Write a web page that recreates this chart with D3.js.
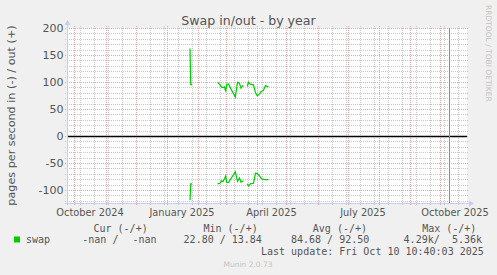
<!DOCTYPE html>
<html>
<head>
<meta charset="utf-8">
<script src="https://cdn.jsdelivr.net/npm/d3@7"></script>
<style>
  body { margin: 0; background: #f0f0f0; }
  text { font-family: "DejaVu Sans", sans-serif; fill: #555; }
  .mono { font-family: "DejaVu Sans Mono", monospace; font-size: 10px; }
</style>
</head>
<body>
<div id="chart"></div>
<script>
// sample times (daily rrd rows that have data, null = gap)
const sampleTimes = [
  '2025-01-24T12:00', '2025-01-25T06:00', '2025-01-26T12:00', '2025-01-28T00:00',
  '2025-02-21T00:00', '2025-02-23T12:00', '2025-02-25T00:00', '2025-02-26T12:00',
  '2025-02-28T00:00', '2025-03-01T05:00', '2025-03-02T05:00', '2025-03-04T00:00',
  '2025-03-10T19:00', '2025-03-13T00:00', '2025-03-15T00:00', '2025-03-16T12:00',
  '2025-03-18T05:00', '2025-03-19T00:00', '2025-03-21T00:00',
  '2025-03-22T17:00', '2025-03-24T02:00', '2025-03-25T19:00', '2025-03-29T00:00',
  '2025-03-31T00:00', '2025-04-01T19:00', '2025-04-03T19:00', '2025-04-05T19:00',
  '2025-04-07T19:00', '2025-04-10T00:00', '2025-04-11T19:00', '2025-04-13T00:00'
];
// pages swapped out per second (+)
const swapOut = [
  162, 95, 95, null,
  99.7, 94.7, 90.4, 89.6,
  91, 82.3, 96, 96,
  72, 99.5, 97.5, 88.6,
  93, 92, null,
  91.6, 99.5, 96, 94.7,
  80, 74.4, 77.5, 82.3,
  84, 93.5, 91.6, 91.6
];
// pages swapped in per second (-)
const swapIn = [
  119, 88.6, 88.6, null,
  88.6, 87.5, 83, 84.2,
  79, 73.8, 86, 86,
  66.4, 83.8, 77.5, 85.3,
  83.5, 83.5, null,
  88.3, 92.6, 88.6, 87.5,
  69, 69.6, 73.5, 78.5,
  80.2, 80.7, 80.7, 80.7
];

const yTicks = [-100, -50, 0, 50, 100, 150, 200];
const monthLabels = ['October 2024', 'January 2025', 'April 2025', 'July 2025', 'October 2025'];
const labelMonths = ['2024-10-01', '2025-01-01', '2025-04-01', '2025-07-01', '2025-10-01'];
const lastUpdate = '2025-10-10T10:40:03';

const legendHeads = ['Cur (-/+)', 'Min (-/+)', 'Avg (-/+)', 'Max (-/+)'];
const legendName = 'swap';
const legendStats = ['-nan /', '-nan', '22.80 / 13.84', '84.68 / 92.50', '4.29k/', '5.36k'];

// chart size
let width = 497,
  height = 275,
  plot = { left: 67, top: 28, right: 467, bottom: 203 };

let parse = d3.timeParse('%Y-%m-%dT%H:%M');
let parseDay = d3.timeParse('%Y-%m-%d');
let data = sampleTimes.map((t, i) => ({ t: parse(t), out: swapOut[i], inn: swapIn[i] }));

let svg = d3.select('#chart')
  .append('svg')
  .attr('width', width)
  .attr('height', height);

svg.append('rect')
  .attr('width', width)
  .attr('height', height)
  .attr('fill', '#f0f0f0');

// plotting area
svg.append('rect')
  .attr('x', plot.left)
  .attr('y', plot.top)
  .attr('width', plot.right - plot.left)
  .attr('height', plot.bottom - plot.top)
  .attr('fill', '#fff');

// 400 days, one pixel per day
let xScale = d3.scaleTime()
  .domain([new Date(2024, 8, 23, 12), new Date(2025, 9, 28, 12)])
  .range([plot.left, plot.right]);

let yScale = d3.scaleLinear()
  .domain([-124, 200])
  .range([plot.bottom, plot.top]);

let px = v => Math.round(v) + 0.5;

let grid = svg.append('g');
let minorColor = '#c8c8c8',
  majorColor = '#eba5a5';

// minor horizontal grid every 10
d3.range(-120, 201, 10).filter(v => v % 50 !== 0).forEach(v => {
  grid.append('line')
    .attr('x1', plot.left - 2).attr('x2', plot.right + 2)
    .attr('y1', px(yScale(v))).attr('y2', px(yScale(v)))
    .attr('stroke', minorColor)
    .attr('stroke-dasharray', '1,1');
});

// minor vertical grid every two weeks
let minorDays = d3.timeDay.range(new Date(2024, 9, 6), xScale.domain()[1], 14);
minorDays.forEach(d => {
  grid.append('line')
    .attr('x1', px(xScale(d))).attr('x2', px(xScale(d)))
    .attr('y1', plot.top - 2).attr('y2', plot.bottom + 2)
    .attr('stroke', minorColor)
    .attr('stroke-dasharray', '1,1');
});

// major grid
yTicks.forEach(v => {
  grid.append('line')
    .attr('x1', plot.left - 2).attr('x2', plot.right + 2)
    .attr('y1', px(yScale(v))).attr('y2', px(yScale(v)))
    .attr('stroke', majorColor)
    .attr('stroke-dasharray', '1,1');
});
d3.timeMonth.range(xScale.domain()[0], xScale.domain()[1]).forEach(d => {
  grid.append('line')
    .attr('x1', px(xScale(d))).attr('x2', px(xScale(d)))
    .attr('y1', plot.top - 2).attr('y2', plot.bottom + 2)
    .attr('stroke', majorColor)
    .attr('stroke-dasharray', '1,1');
});

// y tick labels
svg.append('g')
  .selectAll('text')
  .data(yTicks)
  .enter()
  .append('text')
    .attr('x', 63.5)
    .attr('y', d => yScale(d) + 4)
    .attr('text-anchor', 'end')
    .style('font-size', '11px')
    .text(d => d);

// x labels sit in the middle of their month
svg.append('g')
  .selectAll('text')
  .data(labelMonths)
  .enter()
  .append('text')
    .attr('x', d => {
      let m = parseDay(d);
      return (xScale(m) + xScale(d3.timeMonth.offset(m, 1))) / 2;
    })
    .attr('y', 216)
    .attr('text-anchor', 'middle')
    .style('font-size', '9.8px')
    .text((d, i) => monthLabels[i]);

// swap lines, out above zero and in below
let outLine = d3.line()
  .defined(d => d.out != null)
  .x(d => xScale(d.t))
  .y(d => yScale(d.out));
let inLine = d3.line()
  .defined(d => d.inn != null)
  .x(d => xScale(d.t))
  .y(d => yScale(-d.inn));

svg.append('path')
  .datum(data)
  .attr('d', outLine)
  .attr('fill', 'none')
  .attr('stroke', '#00cc00')
  .attr('stroke-width', 1.2);
svg.append('path')
  .datum(data)
  .attr('d', inLine)
  .attr('fill', 'none')
  .attr('stroke', '#00cc00')
  .attr('stroke-width', 1.2);

// zero rule
svg.append('line')
  .attr('x1', plot.left).attr('x2', plot.right)
  .attr('y1', px(yScale(0))).attr('y2', px(yScale(0)))
  .attr('stroke', '#000')
  .attr('stroke-width', 1.4);

// last update marker
let now = d3.timeParse('%Y-%m-%dT%H:%M:%S')(lastUpdate);
svg.append('line')
  .attr('x1', px(xScale(now))).attr('x2', px(xScale(now)))
  .attr('y1', plot.top).attr('y2', plot.bottom)
  .attr('stroke', '#8c8c8c');

// axes with arrows
let axisColor = '#c6cdf5';
svg.append('line')
  .attr('x1', plot.left + 0.5).attr('x2', plot.left + 0.5)
  .attr('y1', plot.bottom + 2).attr('y2', plot.top - 5)
  .attr('stroke', axisColor);
svg.append('path')
  .attr('d', `M${plot.left - 2.5},${plot.top - 3}L${plot.left + 3.5},${plot.top - 3}L${plot.left + 0.5},${plot.top - 8}Z`)
  .attr('fill', axisColor);
svg.append('line')
  .attr('x1', plot.left - 2).attr('x2', plot.right + 3)
  .attr('y1', plot.bottom + 0.5).attr('y2', plot.bottom + 0.5)
  .attr('stroke', axisColor);
svg.append('path')
  .attr('d', `M${plot.right + 2},${plot.bottom - 2.5}L${plot.right + 2},${plot.bottom + 3.5}L${plot.right + 7},${plot.bottom + 0.5}Z`)
  .attr('fill', axisColor);

// title
svg.append('text')
  .attr('x', 248.5)
  .attr('y', 24.5)
  .attr('text-anchor', 'middle')
  .style('font-size', '12.6px')
  .text('Swap in/out - by year');

// y axis label
svg.append('text')
  .attr('transform', 'translate(15,115.5) rotate(-90)')
  .attr('text-anchor', 'middle')
  .style('font-size', '11.2px')
  .text('pages per second in (-) / out (+)');

// watermark
svg.append('text')
  .attr('transform', 'translate(485.5,5) rotate(90)')
  .style('font-size', '7.5px')
  .style('fill', '#c4c4c4')
  .text('RRDTOOL / TOBI OETIKER');

// legend
let headX = [93.5, 203.5, 312.8, 422.2];
legendHeads.forEach((h, i) => {
  svg.append('text').attr('class', 'mono')
    .attr('x', headX[i]).attr('y', 231.5)
    .text(h);
});
svg.append('rect')
  .attr('x', 14).attr('y', 236.5)
  .attr('width', 6).attr('height', 6)
  .attr('fill', '#00cc00');
svg.append('text').attr('class', 'mono')
  .attr('x', 26).attr('y', 243)
  .text(legendName);
let statX = [82.3, 132.5, 183.6, 291, 403.6, 452];
legendStats.forEach((s, i) => {
  svg.append('text').attr('class', 'mono')
    .attr('x', statX[i]).attr('y', 243)
    .style('white-space', 'pre')
    .text(s);
});
svg.append('text').attr('class', 'mono')
  .attr('x', 261).attr('y', 254.5)
  .text('Last update: ' + d3.timeFormat('%a %b %d %H:%M:%S %Y')(now));

svg.append('text')
  .attr('x', 248)
  .attr('y', 266.5)
  .attr('text-anchor', 'middle')
  .style('font-size', '7.5px')
  .style('fill', '#c4c4c4')
  .text('Munin 2.0.73');
</script>
</body>
</html>
